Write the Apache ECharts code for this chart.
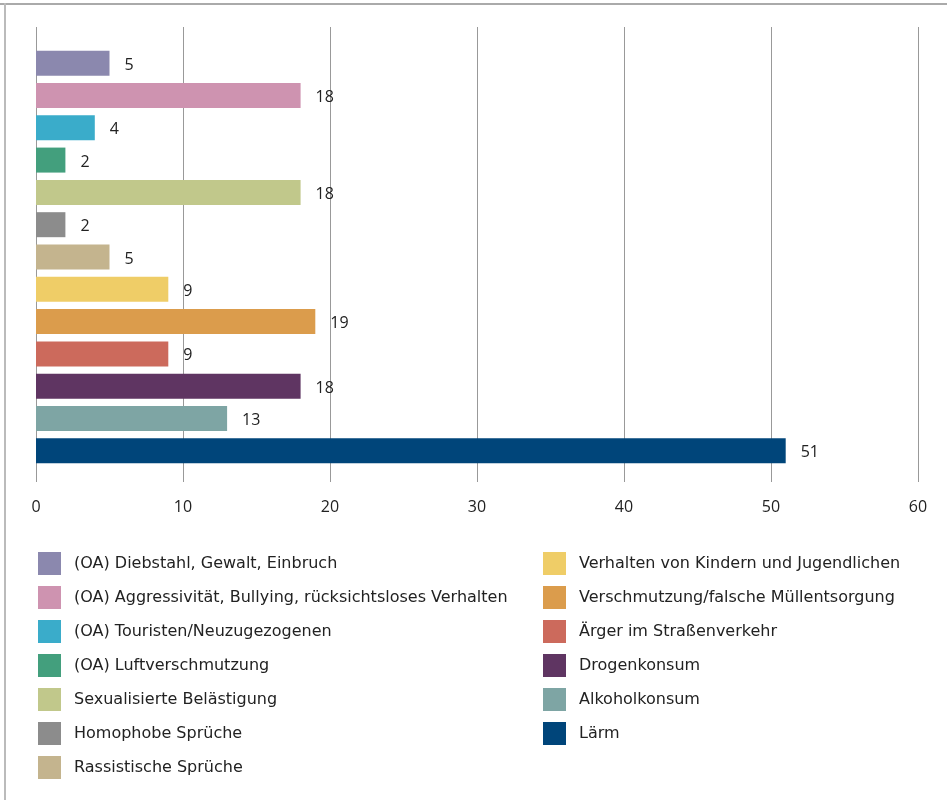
<!DOCTYPE html>
<html>
<head>
<meta charset="utf-8">
<script src="https://cdn.jsdelivr.net/npm/echarts@6/dist/echarts.min.js"></script>
<style>
  html, body { margin: 0; padding: 0; background: #fff; }
  #chart { width: 947px; height: 800px; }
</style>
</head>
<body>
<div id="chart"></div>
<script>
const categories = [
  '(OA) Diebstahl, Gewalt, Einbruch',
  '(OA) Aggressivität, Bullying, rücksichtsloses Verhalten',
  '(OA) Touristen/Neuzugezogenen',
  '(OA) Luftverschmutzung',
  'Sexualisierte Belästigung',
  'Homophobe Sprüche',
  'Rassistische Sprüche',
  'Verhalten von Kindern und Jugendlichen',
  'Verschmutzung/falsche Müllentsorgung',
  'Ärger im Straßenverkehr',
  'Drogenkonsum',
  'Alkoholkonsum',
  'Lärm'
]
const values = [5, 18, 4, 2, 18, 2, 5, 9, 19, 9, 18, 13, 51]
const colors = [
  '#8b88ae', '#ce93b0', '#3aacca', '#439f7d', '#c1c88b', '#8c8c8c', '#c4b48e',
  '#efcd67', '#db9c4c', '#cc6a5c', '#5f3562', '#7ea5a4', '#00457a'
]
const xTicks = { min: 0, max: 60, interval: 10 }

const chart = echarts.init(document.getElementById('chart'))
const font = '"Open Sans", sans-serif'
const legendFont = '"DejaVu Sans", sans-serif'

// one series per category so each gets its own legend entry
const series = categories.map((name, i) => ({
  name,
  type: 'bar',
  xAxisIndex: 1,
  yAxisIndex: 1,
  stack: 'one',
  barWidth: 25,
  itemStyle: { color: colors[i] },
  label: {
    show: true,
    position: 'right',
    distance: 15,
    offset: [0, 2],
    fontSize: 16,
    fontFamily: font,
    color: '#222'
  },
  data: categories.map((c, j) => (j === i ? values[i] : '-'))
}))

const legendBase = {
  orient: 'vertical',
  top: 552,
  padding: 0,
  itemWidth: 23,
  itemHeight: 23,
  itemGap: 11,
  icon: 'rect',
  textStyle: { fontSize: 16, color: '#222', fontFamily: legendFont, padding: [0, 0, 0, 8] }
}

chart.setOption({
  backgroundColor: '#fff',
  animation: false,
  textStyle: { fontFamily: font },
  color: colors,
  graphic: [
    { type: 'rect', shape: { x: 0, y: 3, width: 947, height: 2 }, style: { fill: '#aaa' } },
    { type: 'rect', shape: { x: 4, y: 3, width: 2, height: 797 }, style: { fill: '#bbb' } }
  ],
  grid: [
    { left: 36, right: 29, top: 27, height: 455 },
    { left: 36, right: 29, top: 47, height: 420 }
  ],
  xAxis: [
    {
      gridIndex: 0,
      type: 'value',
      min: xTicks.min,
      max: xTicks.max,
      interval: xTicks.interval,
      axisLine: { show: false },
      axisTick: { show: false },
      splitLine: { lineStyle: { color: '#999', width: 1 } },
      axisLabel: { margin: 17, fontSize: 16, color: '#222', fontFamily: font }
    },
    {
      gridIndex: 1,
      type: 'value',
      min: xTicks.min,
      max: xTicks.max,
      interval: xTicks.interval,
      show: false
    }
  ],
  yAxis: [
    { gridIndex: 0, type: 'value', show: false, min: 0, max: 1 },
    {
      gridIndex: 1,
      type: 'category',
      inverse: true,
      data: categories,
      show: false
    }
  ],
  legend: [
    Object.assign({ data: categories.slice(0, 7), left: 38 }, legendBase),
    Object.assign({ data: categories.slice(7), left: 543 }, legendBase)
  ],
  series
})
</script>
</body>
</html>
